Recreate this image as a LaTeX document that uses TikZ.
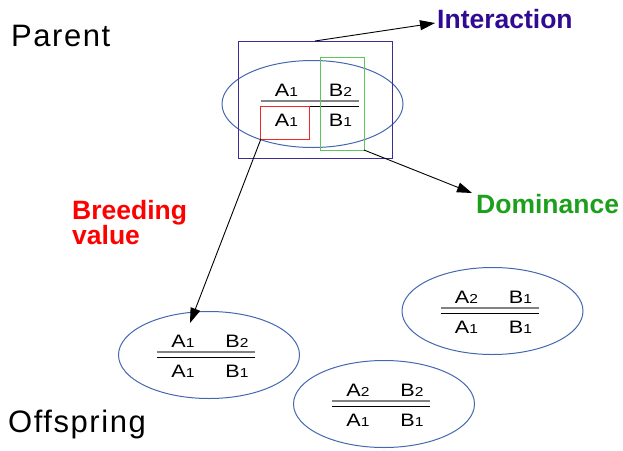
\documentclass[tikz,border=0pt]{standalone}
\usepackage{fontspec}
\setmainfont{Liberation Sans}
\newfontfamily\wideface[LetterSpace=5]{Liberation Sans}
\usetikzlibrary{shapes.geometric,arrows.meta}
\definecolor{ellblue}{RGB}{68,104,176}
\definecolor{intblue}{RGB}{48,10,144}
\definecolor{rectblue}{RGB}{60,45,150}
\definecolor{domgreen}{RGB}{28,160,28}
\definecolor{rectgreen}{RGB}{90,200,90}
\definecolor{rectred}{RGB}{240,40,40}
\definecolor{linegray}{RGB}{130,130,130}
\newcommand\gl[2]{\scalebox{1.2}[1]{\fontsize{18}{20}\selectfont #1\fontsize{13}{14}\selectfont #2}}
\newcommand\geno[7]{%
  \node[ell] (#1) at (#2+3,#3+3) {};
  \draw[grayrule] (#2-49,#3) -- (#2+49,#3);
  \draw[blackrule] (#2-49,#3+5) -- (#2+49,#3+5);
  \node[gt] (#1a) at (#2-23,#3-5) {#4};
  \node[gt] (#1b) at (#2+31,#3-5) {#5};
  \node[gt] (#1c) at (#2-23,#3+25) {#6};
  \node[gt] (#1d) at (#2+31,#3+25) {#7};
}
\begin{document}
\begin{tikzpicture}[x=1pt,y=-1pt,
  ell/.style={draw=ellblue, line width=1pt, ellipse, minimum width=181pt, minimum height=87pt, inner sep=0pt},
  grayrule/.style={draw=linegray, line width=1.6pt},
  blackrule/.style={draw=black, line width=1pt},
  gt/.style={anchor=base, inner sep=0pt, outer sep=0pt},
  box/.style={draw, line width=1pt, inner sep=0pt, outer sep=0pt},
  arr/.style={-{Triangle[length=15pt,width=10pt]}, line width=0.9pt},
  biglabel/.style={anchor=base west, inner sep=0pt, font=\wideface\fontsize{31}{36}\selectfont},
  boldlabel/.style={anchor=base west, inner sep=0pt, font=\bfseries\fontsize{26.5}{27}\selectfont, align=left}
]
\useasboundingbox (0,0) rectangle (623,450);

% parent
\geno{pe}{309.5}{101}{\gl A1}{\gl B2}{\gl A1}{\gl B1}
\node[box, draw=rectblue, minimum width=154pt, minimum height=117pt] (ir) at (315,99.5) {};
\node[box, draw=rectgreen, minimum width=44pt, minimum height=93pt] (dr) at (342,103.5) {};
\node[box, draw=rectred, minimum width=49pt, minimum height=33pt] (br) at (285.4,122.5) {};

% offspring
\geno{oa}{206}{352}{\gl A1}{\gl B2}{\gl A1}{\gl B1}
\geno{ob}{381}{401}{\gl A2}{\gl B2}{\gl A1}{\gl B1}
\geno{oc}{489.5}{308}{\gl A2}{\gl B1}{\gl A1}{\gl B1}

% labels
\node[biglabel] (parent) at (11,46) {Parent};
\node[biglabel] (offspring) at (8,432) {Offspring};
\node[boldlabel, text=intblue] (inter) at (437,28) {Interaction};
\node[boldlabel, text=domgreen] (dom) at (476,213) {Dominance};
\node[boldlabel, text=red, anchor=north west] (breed) at (72,200) {Breeding\\[-2pt]value};

% arrows
\coordinate (itip) at (435,23);
\coordinate (dtip) at (472,193);
\coordinate (btip) at (190,323);
\draw[arr] (ir.north) -- (itip);
\draw[arr] (dr.south east) -- (dtip);
\draw[arr] (br.south west) -- (btip);
\end{tikzpicture}
\end{document}
